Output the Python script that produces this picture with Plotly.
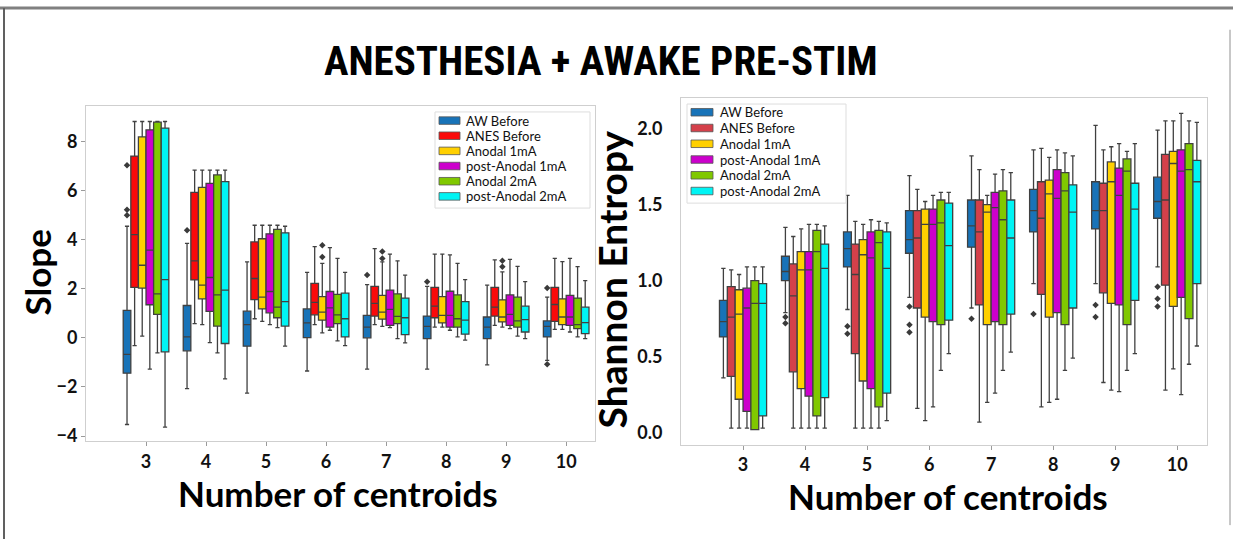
import plotly.graph_objects as go

CENTROIDS = [3, 4, 5, 6, 7, 8, 9, 10]
GROUPS = ["AW Before", "ANES Before", "Anodal 1mA", "post-Anodal 1mA",
          "Anodal 2mA", "post-Anodal 2mA"]
COLORS_LEFT = ["#1873b8", "#fa0a0a", "#ffd000", "#cc00cc", "#80c800", "#00f4f4"]
COLORS_RIGHT = ["#1873b8", "#d4404a", "#ffd000", "#cc00cc", "#80c800", "#00f4f4"]

# ---- Slope panel: (lower whisker, q1, median, q3, upper whisker) per centroid ----
slope_aw_before = [(-3.53, -1.44, -0.67, 1.12, 4.55), (-2.07, -0.53, 0.04, 1.32, 3.85),
                   (-2.25, -0.34, 0.54, 1.09, 3.10), (-1.35, 0.01, 0.61, 1.18, 2.67),
                   (-1.27, 0.00, 0.44, 0.92, 2.17), (-1.27, -0.03, 0.47, 0.89, 2.10),
                   (-1.10, -0.03, 0.44, 0.85, 2.15), (-0.92, 0.04, 0.47, 0.69, 1.66)]
slope_anes_before = [(-0.32, 2.06, 4.21, 7.41, 8.82), (0.58, 2.36, 3.14, 5.93, 6.84),
                     (0.78, 1.56, 2.42, 3.91, 4.59), (0.54, 0.94, 1.45, 2.22, 3.72),
                     (0.54, 0.89, 1.41, 2.10, 3.64), (0.44, 0.82, 1.29, 2.06, 3.41),
                     (0.51, 0.89, 1.25, 2.06, 3.18), (0.35, 0.67, 1.36, 2.06, 3.24)]
slope_anodal_1 = [(0.07, 2.03, 2.96, 8.19, 8.82), (0.54, 1.59, 2.15, 6.13, 6.84),
                  (0.67, 1.18, 1.66, 4.04, 4.59), (0.20, 0.72, 1.05, 1.68, 3.04),
                  (0.47, 0.76, 1.05, 1.73, 3.10), (0.44, 0.61, 0.92, 1.68, 3.41),
                  (0.44, 0.65, 0.85, 1.55, 2.69), (0.35, 0.54, 0.85, 1.59, 3.11)]
slope_post_anodal_1 = [(-1.27, 1.35, 3.58, 8.48, 8.82), (-0.19, 1.08, 2.46, 6.30, 6.84),
                       (0.54, 1.02, 1.89, 4.24, 4.59), (0.31, 0.44, 1.22, 1.89, 3.68),
                       (0.42, 0.51, 1.16, 1.95, 3.41), (0.31, 0.44, 0.92, 1.90, 3.38),
                       (0.38, 0.51, 0.96, 1.75, 3.20), (0.24, 0.51, 0.85, 1.73, 3.24)]
slope_anodal_2 = [(-0.61, 0.96, 1.79, 8.79, 8.82), (-0.61, 0.48, 1.75, 6.64, 6.84),
                  (0.42, 0.82, 1.25, 4.42, 4.59), (-0.12, 0.58, 0.94, 1.77, 3.24),
                  (-0.03, 0.58, 0.88, 1.79, 3.14), (0.04, 0.44, 0.78, 1.75, 3.04),
                  (0.07, 0.44, 0.69, 1.66, 2.91), (0.04, 0.38, 0.54, 1.62, 2.90)]
slope_post_anodal_2 = [(-3.64, -0.57, 2.37, 8.55, 8.82), (-1.67, -0.23, 1.95, 6.37, 6.84),
                       (-0.34, 0.48, 1.48, 4.28, 4.55), (-0.32, 0.04, 0.78, 1.82, 2.67),
                       (-0.20, 0.13, 0.82, 1.62, 2.56), (-0.09, 0.15, 0.72, 1.48, 2.37),
                       (-0.03, 0.24, 0.74, 1.29, 2.29), (-0.03, 0.17, 0.62, 1.25, 2.33)]
# outliers: (centroid, value)
slope_aw_before_out = [(3, 7.04), (3, 5.22), (3, 5.0), (4, 4.39), (7, 2.56), (8, 2.29),
                       (10, 2.03), (10, -1.08)]
slope_anodal_1_out = [(6, 3.77), (6, 3.30), (7, 3.52), (7, 3.24), (9, 3.14), (9, 2.90)]

# ---- Shannon entropy panel ----
ent_aw_before = [(0.36, 0.63, 0.73, 0.87, 1.08), (0.79, 1.00, 1.06, 1.16, 1.35),
                 (0.81, 1.09, 1.21, 1.32, 1.56), (0.89, 1.18, 1.27, 1.46, 1.69),
                 (0.82, 1.22, 1.36, 1.53, 1.82), (0.98, 1.32, 1.46, 1.60, 1.86),
                 (0.98, 1.34, 1.46, 1.65, 2.02), (1.09, 1.41, 1.52, 1.68, 1.99)]
ent_anes_before = [(0.03, 0.37, 0.76, 0.96, 1.07), (0.03, 0.40, 0.90, 1.11, 1.29),
                   (0.03, 0.52, 1.04, 1.24, 1.39), (0.16, 0.82, 1.28, 1.46, 1.60),
                   (0.07, 0.84, 1.32, 1.53, 1.73), (0.17, 0.91, 1.41, 1.65, 1.87),
                   (0.33, 0.92, 1.46, 1.64, 1.86), (0.28, 0.97, 1.53, 1.83, 2.05)]
ent_anodal_1 = [(0.03, 0.22, 0.78, 0.94, 1.04), (0.03, 0.29, 1.07, 1.19, 1.34),
                (0.03, 0.34, 1.17, 1.27, 1.37), (0.08, 0.76, 1.37, 1.47, 1.52),
                (0.20, 0.71, 1.45, 1.50, 1.56), (0.20, 0.76, 1.57, 1.66, 1.81),
                (0.28, 0.85, 1.65, 1.78, 1.88), (0.42, 0.83, 1.77, 1.85, 2.05)]
ent_post_anodal_1 = [(0.03, 0.14, 0.82, 0.95, 1.09), (0.03, 0.24, 1.07, 1.19, 1.37),
                     (0.03, 0.29, 1.15, 1.32, 1.40), (0.17, 0.73, 1.37, 1.47, 1.56),
                     (0.26, 0.73, 1.48, 1.58, 1.70), (0.22, 0.79, 1.54, 1.73, 1.86),
                     (0.27, 0.84, 1.56, 1.74, 1.90), (0.25, 0.89, 1.72, 1.86, 2.10)]
ent_anodal_2 = [(0.02, 0.02, 0.85, 1.00, 1.09), (0.03, 0.11, 1.19, 1.33, 1.37),
                (0.03, 0.17, 1.25, 1.33, 1.39), (0.41, 0.71, 1.38, 1.53, 1.58),
                (0.41, 0.71, 1.40, 1.59, 1.73), (0.41, 0.71, 1.59, 1.71, 1.84),
                (0.41, 0.71, 1.72, 1.80, 1.85), (0.45, 0.75, 1.73, 1.90, 2.05)]
ent_post_anodal_2 = [(0.03, 0.11, 0.85, 0.98, 1.09), (0.03, 0.23, 1.08, 1.24, 1.36),
                     (0.08, 0.26, 1.08, 1.32, 1.38), (0.52, 0.74, 1.23, 1.51, 1.58),
                     (0.53, 0.78, 1.28, 1.53, 1.71), (0.49, 0.82, 1.45, 1.63, 1.82),
                     (0.52, 0.87, 1.47, 1.64, 1.90), (0.57, 0.98, 1.65, 1.79, 2.04)]
ent_aw_before_out = [(4, 0.76), (4, 0.72), (5, 0.70), (5, 0.65), (6, 0.83), (6, 0.71),
                     (6, 0.66), (7, 0.75), (8, 0.78), (9, 0.84), (9, 0.76),
                     (10, 0.96), (10, 0.88), (10, 0.83)]

SLOPE_SERIES = [slope_aw_before, slope_anes_before, slope_anodal_1,
                slope_post_anodal_1, slope_anodal_2, slope_post_anodal_2]
SLOPE_OUT = {0: slope_aw_before_out, 2: slope_anodal_1_out}
ENT_SERIES = [ent_aw_before, ent_anes_before, ent_anodal_1,
              ent_post_anodal_1, ent_anodal_2, ent_post_anodal_2]
ENT_OUT = {0: ent_aw_before_out}

BOXGAP = 0.24
EDGE = "#404040"
W, H = 1233, 544
TITLE_FONT = "Liberation Sans Narrow, Roboto Condensed, Roboto, sans-serif"
LABEL_FONT = "Lato, Roboto, sans-serif"

fig = go.Figure()


def add_panel(series, outliers, colors, xa, ya):
    n = len(series)
    for i, (name, data, col) in enumerate(zip(GROUPS, series, colors)):
        fig.add_trace(go.Box(
            x=CENTROIDS,
            lowerfence=[d[0] for d in data], q1=[d[1] for d in data],
            median=[d[2] for d in data], q3=[d[3] for d in data],
            upperfence=[d[4] for d in data],
            name=name, fillcolor=col, line=dict(color=EDGE, width=1.3),
            whiskerwidth=0.55, boxpoints=False, xaxis=xa, yaxis=ya,
            showlegend=False, offsetgroup=str(i),
        ))
    for i, pts in outliers.items():
        off = (1 - BOXGAP) * ((i + 0.5) / n - 0.5)
        fig.add_trace(go.Scatter(
            x=[c + off for c, _ in pts], y=[v for _, v in pts], mode="markers",
            marker=dict(symbol="diamond", size=5, color="#3a3a3a"),
            showlegend=False, xaxis=xa, yaxis=ya, hoverinfo="skip",
        ))


add_panel(SLOPE_SERIES, SLOPE_OUT, COLORS_LEFT, "x", "y")
add_panel(ENT_SERIES, ENT_OUT, COLORS_RIGHT, "x2", "y2")


def axis(**kw):
    d = dict(showline=True, mirror=True, linecolor="#cfcfcf", linewidth=1,
             showgrid=False, zeroline=False, ticks="outside", ticklen=4,
             tickcolor="#9a9a9a",
             tickfont=dict(family=LABEL_FONT, size=18, color="#111", weight="bold"))
    d.update(kw)
    return d


fig.update_layout(
    width=W, height=H, margin=dict(l=0, r=0, t=0, b=0),
    paper_bgcolor="white", plot_bgcolor="white", showlegend=False,
    boxmode="group", boxgap=BOXGAP, boxgroupgap=0,
    xaxis=axis(domain=[86 / W, 595 / W], range=[2.0, 10.48], tickvals=CENTROIDS),
    yaxis=axis(domain=[1 - 445 / H, 1 - 107 / H], range=[-4.2, 9.45],
               tickvals=[-4, -2, 0, 2, 4, 6, 8]),
    xaxis2=axis(domain=[681 / W, 1207 / W], range=[2.0, 10.48], tickvals=CENTROIDS,
                anchor="y2"),
    yaxis2=axis(domain=[1 - 449 / H, 1 - 99 / H], range=[-0.08, 2.2],
                tickvals=[0, 0.5, 1.0, 1.5, 2.0], tickformat=".1f", anchor="x2",
                ticks="", ticklabelstandoff=14),
)


def add_legend(colors, left, top, right, bottom, sw_x, sw_w, text_x, row0, step):
    fig.add_shape(type="rect", xref="paper", yref="paper",
                  x0=left / W, x1=right / W, y0=1 - bottom / H, y1=1 - top / H,
                  fillcolor="white", line=dict(color="#dddddd", width=1), layer="above")
    for i, (name, col) in enumerate(zip(GROUPS, colors)):
        yc = row0 + i * step
        fig.add_shape(type="rect", xref="paper", yref="paper",
                      x0=sw_x / W, x1=(sw_x + sw_w) / W,
                      y0=1 - (yc + 3.8) / H, y1=1 - (yc - 3.8) / H,
                      fillcolor=col, line=dict(color="#555555", width=0.8), layer="above")
        fig.add_annotation(text=name, x=text_x / W, y=1 - yc / H, xref="paper",
                           yref="paper", xanchor="left", yanchor="middle",
                           showarrow=False,
                           font=dict(family=LABEL_FONT, size=13, color="#111"))


add_legend(COLORS_LEFT, 435, 113, 590, 210, 439, 21, 464, 121.7, 15.3)
add_legend(COLORS_RIGHT, 687, 105, 846, 205, 691, 22, 718, 113.3, 15.9)


def label(text, x, y, size, angle=0, family=LABEL_FONT):
    fig.add_annotation(text=text, x=x / W, y=1 - y / H, xref="paper", yref="paper",
                       xanchor="center", yanchor="middle", showarrow=False,
                       textangle=angle,
                       font=dict(family=family, size=size, color="#000", weight="bold"))


label("ANESTHESIA + AWAKE PRE-STIM", 601, 62, 41, family=TITLE_FONT)
label("Slope", 37, 275, 35, angle=-90)
label("Shannon Entropy", 612, 282, 39, angle=-90)
label("Number of centroids", 338, 498, 35)
label("Number of centroids", 948, 501, 35)

# outer image frame lines
fig.add_shape(type="line", xref="paper", yref="paper", x0=0, x1=1,
              y0=1 - 8 / H, y1=1 - 8 / H, line=dict(color="#808080", width=3))
fig.add_shape(type="line", xref="paper", yref="paper", x0=4 / W, x1=4 / W,
              y0=0, y1=1 - 8 / H, line=dict(color="#606060", width=2))
fig.add_shape(type="line", xref="paper", yref="paper", x0=1230 / W, x1=1230 / W,
              y0=1 - 530 / H, y1=1 - 30 / H, line=dict(color="#909090", width=1))

fig.write_html("out.html")
